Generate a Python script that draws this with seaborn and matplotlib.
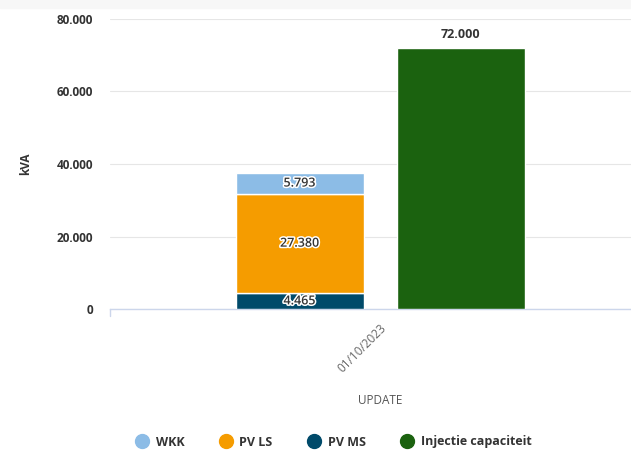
import matplotlib
matplotlib.use("Agg")
import matplotlib.pyplot as plt
import seaborn as sns
from matplotlib.patches import Rectangle
from matplotlib.lines import Line2D
import matplotlib.patheffects as pe

categories = ["01/10/2023"]
stack_series = ["PV MS", "PV LS", "WKK"]
stack_values = [4465, 27380, 5793]
injectie_label = "Injectie capaciteit"
injectie_values = [72000]
legend_order = ["WKK", "PV LS", "PV MS", "Injectie capaciteit"]
colors = {"WKK": "#8cbce6", "PV LS": "#f59c00", "PV MS": "#004a6a",
          "Injectie capaciteit": "#1b620f"}
yticks = [0, 20000, 40000, 60000, 80000]

def fmt(v):
    return f"{int(round(v)):,}".replace(",", ".")

sns.set_theme(style="white")
plt.rcParams['font.family'] = ['Open Sans', 'DejaVu Sans']

W, H = 631, 458
fig = plt.figure(figsize=(W/100, H/100), dpi=100)
fig.patches.append(Rectangle((0, 1 - 8/H), 1, 8/H, transform=fig.transFigure,
                             color="#f7f7f7", zorder=0))
left, right, top, bot = 110, 650, 19, 309
ax = fig.add_axes([left/W, (H-bot)/H, (right-left)/W, (bot-top)/H])
pw = right - left

w = 128/pw
off = 80.5/pw
x0 = 0
bottom = 0
for name, val in zip(stack_series, stack_values):
    ax.bar(x0 - off, val, width=w, bottom=bottom, color=colors[name],
           edgecolor="white", linewidth=1, zorder=3)
    ax.text(x0 - off, bottom + val/2, fmt(val), ha="center", va="center",
            fontsize=9, fontweight="semibold", color="#333333", zorder=4,
            path_effects=[pe.withStroke(linewidth=2.2, foreground="white")])
    bottom += val
ax.bar(x0 + off, injectie_values[0], width=w, color=colors[injectie_label],
       edgecolor="white", linewidth=1, zorder=3)
ax.text(x0 + off, injectie_values[0] + 1800, fmt(injectie_values[0]),
        ha="center", va="bottom", fontsize=9, fontweight="bold",
        color="#333333", zorder=4)

ax.set_xlim(-0.5, 0.5)
ax.set_ylim(0, 80000)
ax.set_yticks(yticks)
ax.set_yticklabels([fmt(v) for v in yticks], fontsize=8.5, fontweight="bold",
                   color="#333333")
ax.tick_params(axis="y", length=0, pad=12)
ax.grid(axis="y", color="#e6e6e6", linewidth=0.8, zorder=0)
ax.set_xticks([0])
ax.set_xticklabels(categories, rotation=45, ha="right", rotation_mode="anchor",
                   fontsize=8.5, color="#666666")
ax.tick_params(axis="x", length=0, pad=9)
for s in ["top", "right", "left"]:
    ax.spines[s].set_visible(False)
ax.spines["bottom"].set_color("#ccd6eb")
ax.spines["bottom"].set_linewidth(1)
ax.plot([-0.5, -0.5], [0, -1800], color="#ccd6eb", lw=1, clip_on=False)
ax.set_ylabel("kVA", fontsize=8.5, fontweight="bold", color="#333333",
              labelpad=18)
ax.set_xlabel("UPDATE", fontsize=8.5, color="#555555", labelpad=14)

handles = [Line2D([0], [0], marker="o", linestyle="", markersize=10,
                  markerfacecolor=colors[n], markeredgecolor=colors[n])
           for n in legend_order]
fig.legend(handles, legend_order, loc="center", bbox_to_anchor=(333/W, 1 - 442/H),
           ncol=4, frameon=False, handletextpad=0.5, handlelength=1.2,
           columnspacing=2.7, prop={"weight": "bold", "size": 9})
for t in fig.legends[0].get_texts():
    t.set_color("#333333")

fig.savefig("out.png", dpi=100)
